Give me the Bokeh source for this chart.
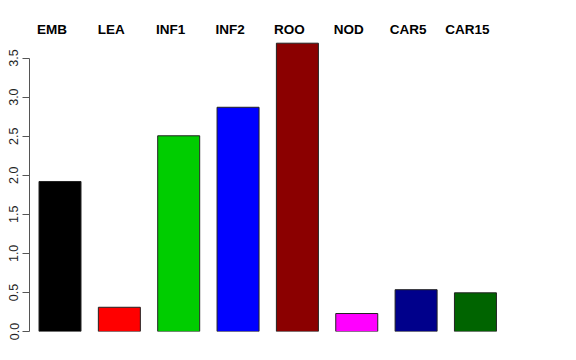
from bokeh.plotting import figure
from bokeh.models import Range1d, FixedTicker, ColumnDataSource, LinearAxis
from bokeh.core.properties import value
from bokeh.embed import file_html
from bokeh.resources import INLINE

categories = ["EMB", "LEA", "INF1", "INF2", "ROO", "NOD", "CAR5", "CAR15"]
values = [1.92, 0.31, 2.505, 2.87, 3.69, 0.23, 0.535, 0.495]
colors = ["#000000", "#FF0000", "#00CD00", "#0000FF", "#8B0000", "#FF00FF", "#00008B", "#006400"]
y_ticks = [0.0, 0.5, 1.0, 1.5, 2.0, 2.5, 3.0, 3.5]

W, H = 576, 360
left, bottom = 29, 29
px_unit_x = 59.35
px_unit_y = 78.13
frame_w = W - left
frame_h = H - bottom

x_start = -30.5 / px_unit_x
p = figure(width=W, height=H, output_backend="svg", toolbar_location=None,
           x_range=Range1d(x_start, x_start + frame_w / px_unit_x),
           y_range=Range1d(0, frame_h / px_unit_y),
           min_border_left=left, min_border_bottom=bottom,
           min_border_top=0, min_border_right=0,
           x_axis_location=None, y_axis_location=None)
p.outline_line_color = None
p.xgrid.visible = False
p.ygrid.visible = False
p.background_fill_color = "white"
p.border_fill_color = "white"

idx = list(range(len(categories)))
src = ColumnDataSource(dict(x=idx, top=values, color=colors, cat=categories,
                            lx=[i - 8 / px_unit_x for i in idx],
                            ly=[(frame_h - 29) / px_unit_y] * len(idx)))
p.vbar(x="x", top="top", bottom=0, width=42 / px_unit_x, fill_color="color",
       line_color="#222222", line_width=1, source=src)

p.text(x="lx", y="ly", text="cat", source=src, text_align="center",
       text_baseline="middle", text_font=value("Liberation Sans"),
       text_font_style="bold", text_font_size="13.5px", text_color="black")

ax = LinearAxis(ticker=FixedTicker(ticks=y_ticks), bounds=(0, 3.5))
ax.major_label_overrides = {t: f"{t:.1f}" for t in y_ticks}
ax.major_label_orientation = "vertical"
ax.major_label_text_font = "Liberation Sans"
ax.major_label_text_font_size = "12.5px"
ax.major_label_text_color = "#222222"
ax.major_label_standoff = 4
ax.major_tick_out = 7
ax.major_tick_in = 0
ax.minor_tick_out = 0
ax.minor_tick_in = 0
ax.axis_line_color = "#555555"
ax.major_tick_line_color = "#555555"
p.add_layout(ax, "left")

open("out.html", "w").write(file_html(p, INLINE))
